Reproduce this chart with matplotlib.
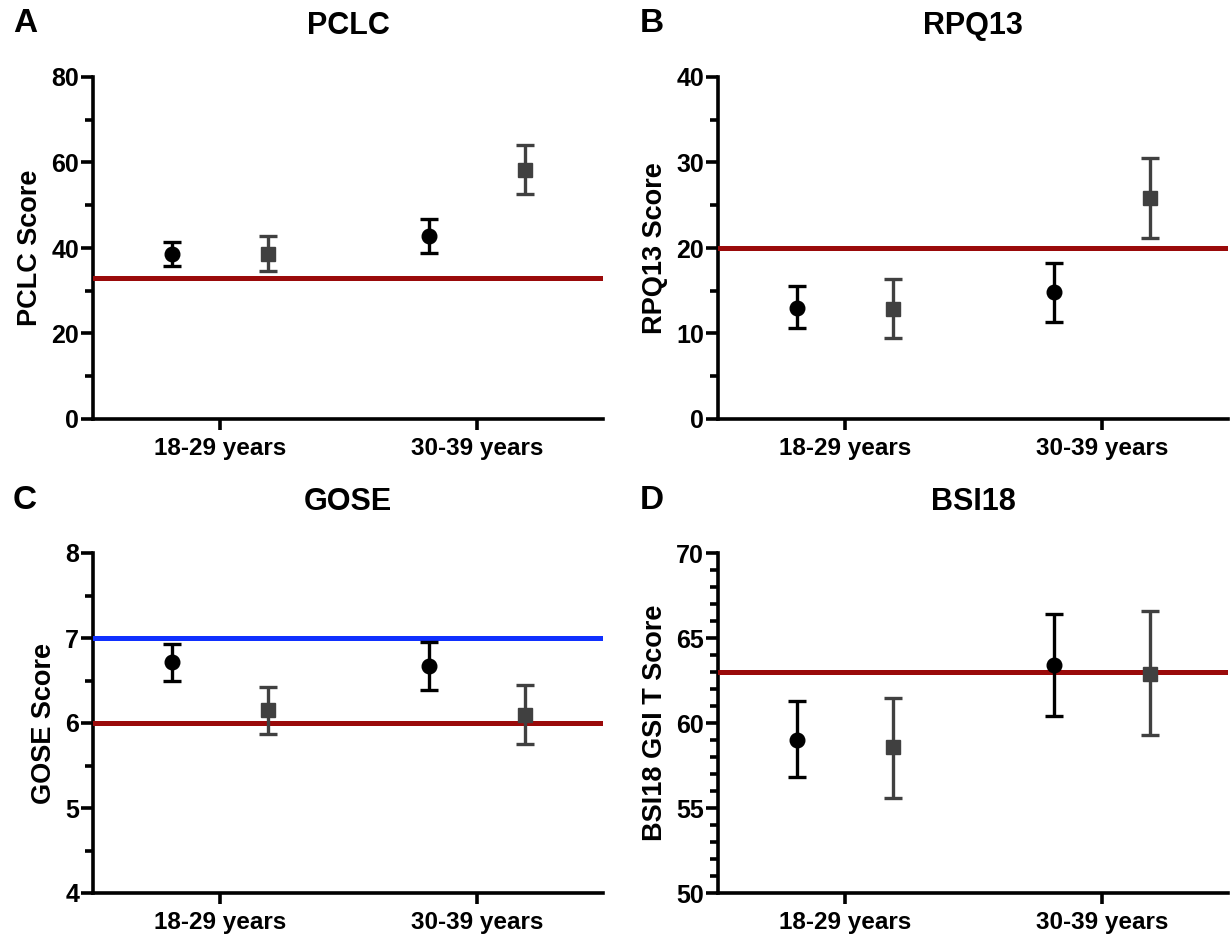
import numpy as np
import matplotlib.pyplot as plt
from matplotlib.ticker import MultipleLocator

plt.rcParams['font.family'] = ['Liberation Sans', 'DejaVu Sans']
plt.rcParams['font.weight'] = 'bold'

##! Data
groups = ['18-29 years', '30-39 years']

titles  = ['PCLC', 'RPQ13', 'GOSE', 'BSI18']
letters = ['A', 'B', 'C', 'D']
ylabels = ['PCLC Score', 'RPQ13 Score', 'GOSE Score', 'BSI18 GSI T Score']

# circle series (mean, lower, upper) per age group
circ_mean = [[38.6, 42.8], [13.0, 14.8], [6.72, 6.67], [59.0, 63.4]]
circ_lo   = [[35.8, 38.8], [10.6, 11.4], [6.50, 6.39], [56.8, 60.4]]
circ_hi   = [[41.5, 46.8], [15.5, 18.2], [6.93, 6.95], [61.3, 66.4]]

# square series (mean, lower, upper) per age group
sq_mean = [[38.7, 58.3], [12.9, 25.9], [6.15, 6.10], [58.6, 62.9]]
sq_lo   = [[34.6, 52.6], [9.5, 21.2], [5.87, 5.75], [55.6, 59.3]]
sq_hi   = [[42.8, 64.0], [16.4, 30.5], [6.42, 6.45], [61.5, 66.6]]

# reference lines
red_lines  = [33, 20, 6, 63]
blue_lines = [None, None, 7, None]

ylims  = [(0, 80), (0, 40), (4, 8), (50, 70)]
majors = [20, 10, 1, 5]
minors = [10, 5, 0.5, 1]

##! Layout (pixels in a 1232x938 figure)
W, H = 1232, 938
boxes = [(93, 77, 603, 419), (718, 77, 1228, 419),
         (93, 553, 603, 893), (718, 553, 1228, 893)]

fig = plt.figure(figsize=(W / 100, H / 100), dpi=100)

x = np.arange(len(groups))
off = 0.185

for i in range(4):
    x0, y0, x1, y1 = boxes[i]
    ax = fig.add_axes([x0 / W, 1 - y1 / H, (x1 - x0) / W, (y1 - y0) / H])

    m = np.array(circ_mean[i]); lo = np.array(circ_lo[i]); hi = np.array(circ_hi[i])
    ax.errorbar(x - off, m, yerr=[m - lo, hi - m], fmt='o', color='black',
                ms=10.5, elinewidth=2.4, capsize=6.5, capthick=2.4, zorder=4)
    m = np.array(sq_mean[i]); lo = np.array(sq_lo[i]); hi = np.array(sq_hi[i])
    ax.errorbar(x + off, m, yerr=[m - lo, hi - m], fmt='s', color='#404040',
                ms=10, elinewidth=2.4, capsize=6.5, capthick=2.4, zorder=4)

    ax.axhline(red_lines[i], color='#9a0a0a', lw=3.6, zorder=3)
    if blue_lines[i] is not None:
        ax.axhline(blue_lines[i], color='#1030ff', lw=3.6, zorder=3)

    ax.set_xlim(-0.494, 1.49)
    ax.set_ylim(*ylims[i])
    ax.yaxis.set_major_locator(MultipleLocator(majors[i]))
    ax.yaxis.set_minor_locator(MultipleLocator(minors[i]))
    ax.set_xticks(x)
    ax.set_xticklabels(groups)

    for s in ['top', 'right']:
        ax.spines[s].set_visible(False)
    for s in ['left', 'bottom']:
        ax.spines[s].set_linewidth(2.6)
    ax.tick_params(axis='y', which='major', length=9, width=2.6, labelsize=18, pad=1)
    ax.tick_params(axis='y', which='minor', length=6, width=2.6)
    ax.tick_params(axis='x', length=8, width=2.6, labelsize=17.5, pad=5)
    for lab in ax.get_yticklabels() + ax.get_xticklabels():
        lab.set_fontweight('bold')

    ax.set_ylabel(ylabels[i], fontsize=19.5, fontweight='bold', labelpad=6)

    cx = (x0 + x1) / 2
    fig.text(cx / W, 1 - (y0 - 51) / H, titles[i], ha='center', va='center',
             fontsize=22, fontweight='bold')
    fig.text((x0 - 80 if i % 2 == 0 else x0 - 78) / W, 1 - (y0 - 53) / H,
             letters[i], ha='left', va='center', fontsize=24, fontweight='bold')

fig.savefig('out.png', dpi=100)
